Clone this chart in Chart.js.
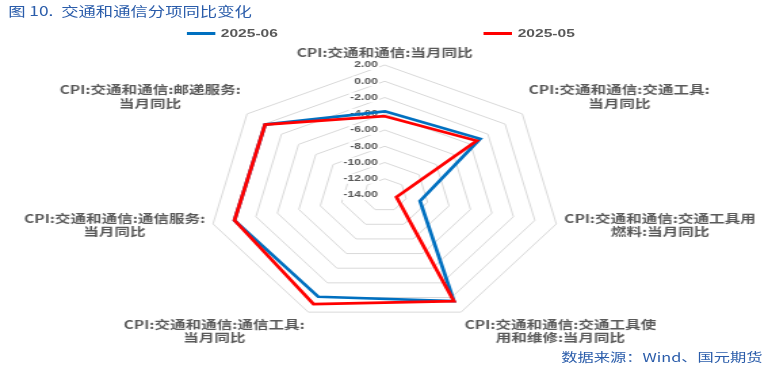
<!DOCTYPE html>
<html>
<head>
<meta charset="utf-8">
<script src="https://cdn.jsdelivr.net/npm/chart.js@4.4.1/dist/chart.umd.min.js"></script>
<style>
html,body{margin:0;padding:0;background:#fff;overflow:hidden;width:772px;height:371px;}
#wrap{position:absolute;left:0;top:0;width:570px;height:371px;transform:scaleX(1.3544);transform-origin:0 0;font-family:"Noto Sans CJK SC",sans-serif;}
#title{position:absolute;left:6px;top:1px;font-size:12.8px;color:#2a5caa;white-space:nowrap;line-height:20px;}
#src{position:absolute;right:7px;top:348px;font-size:12px;color:#2a5caa;line-height:18px;white-space:nowrap;}
#legend{position:absolute;left:138px;top:26px;height:14px;display:flex;align-items:center;gap:152px;}
.item{display:flex;align-items:center;font:bold 11.5px "Liberation Sans",sans-serif;color:#595959;white-space:nowrap;}
.swatch{display:inline-block;width:21px;height:3px;margin-right:4px;}
canvas{position:absolute;left:0;top:0;}
</style>
</head>
<body>
<div id="wrap">
  <div id="title">图&nbsp;10.&nbsp;&nbsp;交通和通信分项同比变化</div>
  <div id="legend"></div>
  <canvas id="c" width="570" height="371"></canvas>
  <div id="src">数据来源：Wind、国元期货</div>
</div>
<script>
// ---- data ----
const categories = [
  ["CPI:交通和通信:当月同比"],
  ["CPI:交通和通信:交通工具:", "当月同比"],
  ["CPI:交通和通信:交通工具用", "燃料:当月同比"],
  ["CPI:交通和通信:交通工具使", "用和维修:当月同比"],
  ["CPI:交通和通信:通信工具:", "当月同比"],
  ["CPI:交通和通信:通信服务:", "当月同比"],
  ["CPI:交通和通信:邮递服务:", "当月同比"]
];
const seriesNames = ["2025-06", "2025-05"];
const series202506 = [-3.7, -2.9, -10.7, 0.5, -0.1, 0.0, -0.1];
const series202505 = [-4.3, -3.3, -12.9, 0.5, 0.9, 0.0, -0.1];
const tickValues = [2, 0, -2, -4, -6, -8, -10, -12, -14];
const tickLabels = ["2.00", "0.00", "-2.00", "-4.00", "-6.00", "-8.00", "-10.00", "-12.00", "-14.00"];
const seriesColors = ["#0070C0", "#FF0000"];

// ---- legend (HTML) ----
const leg = document.getElementById('legend');
seriesNames.forEach((n, i) => {
  const it = document.createElement('div'); it.className = 'item';
  const sw = document.createElement('span'); sw.className = 'swatch'; sw.style.background = seriesColors[i];
  it.appendChild(sw); it.appendChild(document.createTextNode(n));
  leg.appendChild(it);
});

const labelPlugin = {
  id: 'customLabels',
  beforeDatasetsDraw(chart) {
    const s = chart.scales.r, ctx = chart.ctx;
    ctx.save();
    ctx.font = 'bold 9px "Liberation Sans", sans-serif';
    ctx.textAlign = 'right';
    ctx.textBaseline = 'middle';
    s.ticks.forEach(t => {
      const y = s.yCenter - s.getDistanceFromCenterForValue(t.value);
      const x = s.xCenter - 5;
      const w = ctx.measureText(t.label).width;
      ctx.fillStyle = '#ffffff';
      ctx.fillRect(x - w - 1, y - 5, w + 2, 10);
      ctx.fillStyle = '#595959';
      ctx.fillText(t.label, x, y);
    });
    ctx.restore();
  },
  afterDraw(chart) {
    const s = chart.scales.r, ctx = chart.ctx;
    const LH = 13.5;
    ctx.save();
    ctx.font = 'bold 11.5px "Noto Sans CJK SC", sans-serif';
    ctx.fillStyle = '#595959';
    ctx.textAlign = 'center';
    ctx.textBaseline = 'middle';
    chart.data.labels.forEach((lines, i) => {
      const p = s.getPointPosition(i, s.drawingArea + 6);
      const c = Math.cos(p.angle), sn = Math.sin(p.angle);
      const bw = Math.max(...lines.map(l => ctx.measureText(l).width));
      const bh = lines.length * LH;
      let left, top;
      if (Math.abs(c) < 0.1) left = p.x - bw / 2; else if (c > 0) left = p.x; else left = p.x - bw;
      if (sn < -0.5) top = p.y - bh; else if (sn > 0.5) top = p.y; else top = p.y - bh / 2;
      lines.forEach((l, k) => ctx.fillText(l, left + bw / 2, top + LH * (k + 0.5)));
    });
    ctx.restore();
  }
};

new Chart(document.getElementById('c'), {
  type: 'radar',
  data: {
    labels: categories,
    datasets: [
      { label: seriesNames[0], data: series202506, borderColor: seriesColors[0], borderWidth: 2.75, fill: false, order: 1 },
      { label: seriesNames[1], data: series202505, borderColor: seriesColors[1], borderWidth: 2.75, fill: false, order: 0 }
    ]
  },
  options: {
    responsive: false,
    animation: false,
    events: [],
    elements: { point: { radius: 0, hoverRadius: 0 }, line: { tension: 0, borderJoinStyle: 'miter' } },
    plugins: { legend: { display: false }, tooltip: { enabled: false } },
    scales: {
      r: {
        min: Math.min(...tickValues),
        max: Math.max(...tickValues),
        ticks: {
          stepSize: 2, display: false,
          callback: v => { const i = tickValues.indexOf(v); return i >= 0 ? tickLabels[i] : ''; }
        },
        pointLabels: { display: false },
        angleLines: { display: false },
        grid: { circular: false, color: '#d9d9d9', lineWidth: 1 },
        afterSetDimensions(scale) {
          scale.xCenter = 284;
          scale.yCenter = 195;
          scale.drawingArea = 130;
        }
      }
    }
  },
  plugins: [labelPlugin]
});
</script>
</body>
</html>
